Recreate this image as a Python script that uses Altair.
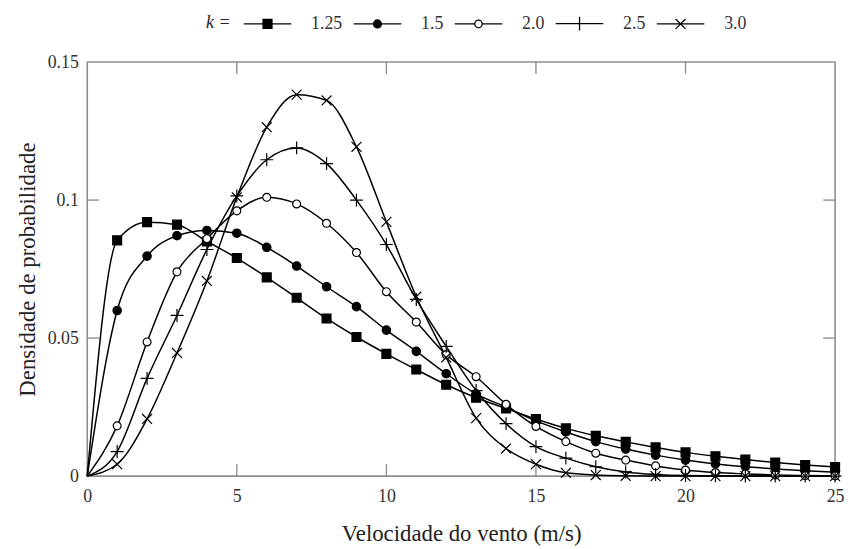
import altair as alt
import pandas as pd

# ---- data ----
speed = [0, 1, 2, 3, 4, 5, 6, 7, 8, 9, 10, 11, 12, 13, 14, 15, 16, 17, 18, 19, 20, 21, 22, 23, 24, 25]
k_labels = ["1.25", "1.5", "2.0", "2.5", "3.0"]

dens_k125 = [0, 0.0854, 0.0920, 0.0911, 0.0850, 0.0790, 0.0720, 0.0646, 0.0571, 0.0504, 0.0443,
             0.0386, 0.0331, 0.0284, 0.0245, 0.0207, 0.0173, 0.0146, 0.0124, 0.0104, 0.0086,
             0.0072, 0.0060, 0.0049, 0.0040, 0.0033]
dens_k15 = [0, 0.0600, 0.0797, 0.0871, 0.0890, 0.0880, 0.0829, 0.0761, 0.0686, 0.0614, 0.0529,
            0.0452, 0.0371, 0.0298, 0.0250, 0.0200, 0.0160, 0.0125, 0.0098, 0.0076, 0.0058,
            0.0044, 0.0034, 0.0026, 0.0019, 0.0014]
dens_k20 = [0, 0.0182, 0.0486, 0.0740, 0.0860, 0.0961, 0.1010, 0.0986, 0.0916, 0.0810, 0.0668,
            0.0558, 0.0440, 0.0360, 0.0260, 0.0180, 0.0125, 0.0083, 0.0058, 0.0037, 0.0022,
            0.0013, 0.0008, 0.0004, 0.0002, 0.0001]
dens_k25 = [0, 0.0089, 0.0354, 0.0582, 0.0821, 0.1015, 0.1146, 0.1189, 0.1132, 0.1000, 0.0839,
            0.0640, 0.0470, 0.0310, 0.0190, 0.0107, 0.0065, 0.0034, 0.0015, 0.0006, 0.0002,
            0.0001, 0.0, 0.0, 0.0, 0.0]
dens_k30 = [0, 0.0043, 0.0207, 0.0446, 0.0707, 0.1010, 0.1264, 0.1382, 0.1361, 0.1193, 0.0921,
            0.0650, 0.0430, 0.0210, 0.0100, 0.0043, 0.0012, 0.0004, 0.0001, 0.0, 0.0,
            0.0, 0.0, 0.0, 0.0, 0.0]

x_ticks = [0, 5, 10, 15, 20, 25]
y_ticks = [0, 0.05, 0.1, 0.15]
x_inner_ticks = [5, 10, 15, 20]
y_inner_ticks = [0.05, 0.1]

series = [dens_k125, dens_k15, dens_k20, dens_k25, dens_k30]
rows = []
for lab, vals in zip(k_labels, series):
    for s, v in zip(speed, vals):
        rows.append({"v": s, "p": v, "k": lab, "kl": lab})
df = pd.DataFrame(rows)

# ---- styling ----
W, H = 755, 418
FONT = "Liberation Serif"
FRAME = "#8f8f8f"
TICK = 12

marker_paths = [
    "M-0.9,-0.9H0.9V0.9H-0.9Z",
    "M0.85,0A0.85,0.85 0 1,1 -0.85,0A0.85,0.85 0 1,1 0.85,0Z",
    "M0.8,0A0.8,0.8 0 1,1 -0.8,0A0.8,0.8 0 1,1 0.8,0Z",
    "M0,-1.3V1.3M-1.3,0H1.3",
    "M-1,-1L1,1M-1,1L1,-1",
]
legend_paths = [
    "M-4.8,0H4.8M-0.9,-0.9H0.9V0.9H-0.9Z",
    "M-4.8,0H4.8M0.8,0A0.8,0.8 0 1,1 -0.8,0A0.8,0.8 0 1,1 0.8,0Z",
    "M-4.8,0H-0.75M0.75,0H4.8M0.75,0A0.75,0.75 0 1,1 -0.75,0A0.75,0.75 0 1,1 0.75,0Z",
    "M-4.8,0H4.8M0,-1.4V1.4",
    "M-4.8,0H4.8M-1,-1L1,1M-1,1L1,-1",
]
fills = ["black", "black", "white", "black", "black"]
strokes = ["black", "black", "black", "black", "black"]

xs = alt.Scale(domain=[0, 25], nice=False, zero=False)
ys = alt.Scale(domain=[0, 0.15], nice=False)

x_axis = alt.Axis(values=x_ticks, title="Velocidade do vento (m/s)", grid=False, domain=False,
                  ticks=False, labelFlush=False, labelPadding=12, titlePadding=17,
                  labelFontSize=18, titleFontSize=23)
y_axis = alt.Axis(values=y_ticks, format="~g", title="Densidade de probabilidade", grid=False,
                  domain=False, ticks=False, labelFlush=False, labelPadding=9, titlePadding=8,
                  labelFontSize=18, titleFontSize=23)

base = alt.Chart(df)

lines = base.mark_line(color="black", strokeWidth=1.5, interpolate="monotone").encode(
    x=alt.X("v:Q", scale=xs, axis=x_axis),
    y=alt.Y("p:Q", scale=ys, axis=y_axis),
    detail="k:N",
)

points = base.transform_filter("datum.v > 0").mark_point(
    filled=True, stroke="black", strokeWidth=1.2, size=100, opacity=1
).encode(
    x=alt.X("v:Q", scale=xs),
    y=alt.Y("p:Q", scale=ys),
    shape=alt.Shape("k:N", scale=alt.Scale(domain=k_labels, range=marker_paths), legend=None),
    fill=alt.Fill("k:N", scale=alt.Scale(domain=k_labels, range=fills), legend=None),
)

leg = alt.Legend(
    title="k =", orient="none", direction="horizontal", legendX=120, legendY=-48,
    titleOrient="left", titleFont=FONT, titleFontStyle="italic", titleFontWeight="normal",
    titleFontSize=18, titleColor="#222", titlePadding=10,
    labelFont=FONT, labelFontSize=18, labelColor="#333",
    symbolSize=100, symbolStrokeWidth=1.3, symbolOpacity=1,
    symbolOffset=18, labelOffset=35, columnPadding=8, values=k_labels,
)

legend_layer = base.transform_filter("datum.v < 0").mark_point(
    filled=True, strokeWidth=1.2, size=100, opacity=1
).encode(
    x=alt.X("v:Q", scale=xs),
    y=alt.Y("p:Q", scale=ys),
    shape=alt.Shape("kl:N", scale=alt.Scale(domain=k_labels, range=legend_paths), legend=leg),
    fill=alt.Fill("kl:N", scale=alt.Scale(domain=k_labels, range=fills), legend=leg),
    stroke=alt.Stroke("kl:N", scale=alt.Scale(domain=k_labels, range=strokes), legend=leg),
)

xt = pd.DataFrame({"v": x_inner_ticks})
yt = pd.DataFrame({"p": y_inner_ticks})
tick_style = dict(color=FRAME, strokeWidth=1.4)

bottom_ticks = alt.Chart(xt).mark_rule(**tick_style).encode(
    x=alt.X("v:Q", scale=xs), y=alt.value(H), y2=alt.value(H - TICK))
top_ticks = alt.Chart(xt).mark_rule(**tick_style).encode(
    x=alt.X("v:Q", scale=xs), y=alt.value(0), y2=alt.value(TICK))
left_ticks = alt.Chart(yt).mark_rule(**tick_style).encode(
    y=alt.Y("p:Q", scale=ys), x=alt.value(0), x2=alt.value(TICK))
right_ticks = alt.Chart(yt).mark_rule(**tick_style).encode(
    y=alt.Y("p:Q", scale=ys), x=alt.value(W), x2=alt.value(W - TICK))

chart = alt.layer(
    bottom_ticks, top_ticks, left_ticks, right_ticks, lines, points, legend_layer
).resolve_scale(
    shape="independent", fill="independent", stroke="independent"
).properties(
    width=W, height=H, autosize="none",
    padding={"left": 80, "top": 52, "right": 10, "bottom": 70},
    background="white",
).configure_view(
    stroke=FRAME, strokeWidth=1.6
).configure_axis(
    labelFont=FONT, titleFont=FONT, labelColor="#333", titleColor="#222",
    titleFontWeight="normal",
)

chart.save("out.html", embed_options={"renderer": "svg", "actions": False})
